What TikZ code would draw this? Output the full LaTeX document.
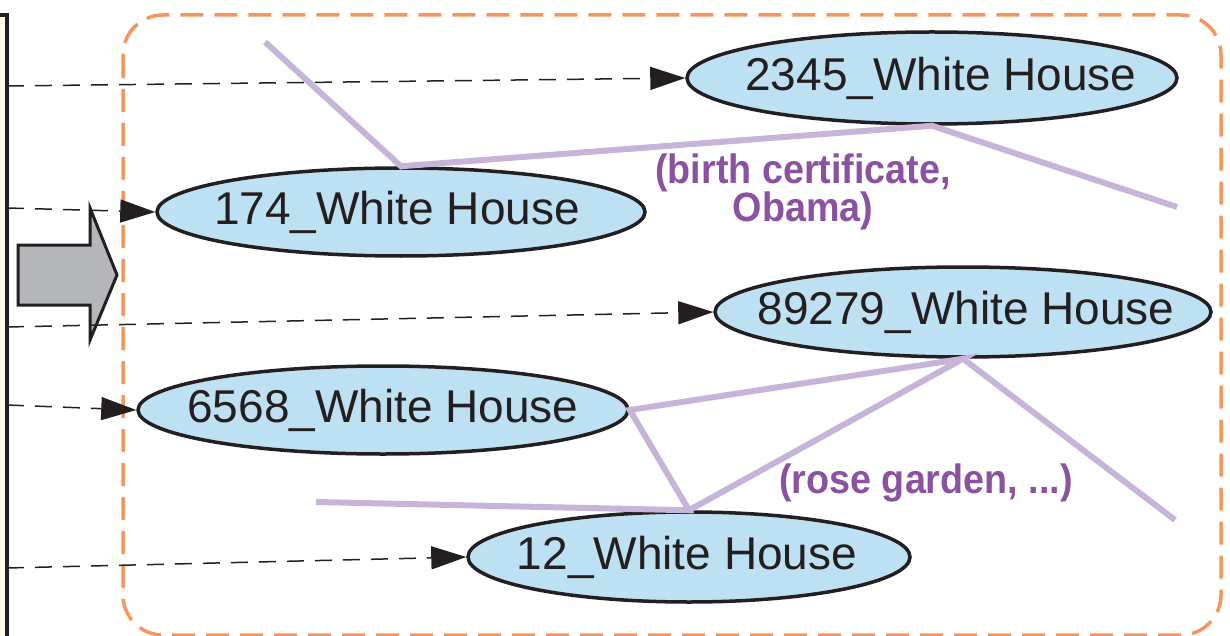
\documentclass[tikz,border=0pt]{standalone}
\usepackage{fontspec}
\setmainfont{Liberation Sans}
\newfontfamily\lblfont[FakeStretch=0.92]{Liberation Sans}
\usetikzlibrary{shapes.geometric,arrows.meta}

\definecolor{cream}{HTML}{FEFCE6}
\definecolor{entblue}{HTML}{BEE0F3}
\definecolor{lav}{HTML}{C7B5D9}
\definecolor{purp}{HTML}{8A52A0}
\definecolor{framec}{HTML}{F7965A}
\definecolor{arrowgray}{HTML}{B5B6BA}
\definecolor{inkdark}{HTML}{231F20}

% entity label set in a zero-width box so the ellipse size is fixed by its minimum size
\newcommand{\entlabel}[2][0pt]{\makebox[0pt]{\hspace*{#1}#2}}

\tikzset{
  ent/.style={ellipse, draw=inkdark, line width=3.5pt, fill=entblue, inner sep=0pt,
    text=inkdark, font=\fontsize{46}{50}\selectfont},
  refline/.style={draw=inkdark, line width=1.5pt, dash pattern=on 17pt off 11pt,
    -{Triangle[length=35pt,width=23pt]}},
  hyper/.style={draw=lav, line width=6pt, line join=miter},
  tuple/.style={text=purp, font=\lblfont\bfseries\fontsize{41}{40}\selectfont, inner sep=0pt},
  grp/.style={draw=framec, line width=3.5pt, dash pattern=on 23pt off 11pt, rounded corners=40pt},
}

\begin{document}
\begin{tikzpicture}[x=1pt,y=-1pt]
\useasboundingbox (0,0) rectangle (1230,636);

% source table at the left edge
\fill[cream] (-10,15) rectangle (7,646);
\draw[inkdark, line width=3.5pt] (-10,15) -- (7,15) -- (7,646);

% block arrow
\draw[fill=arrowgray, draw=inkdark, line width=3pt, line join=miter]
  (18,245) -- (90,245) -- (90,208) -- (117,275) -- (90,340) -- (90,305) -- (18,305) -- cycle;

% group frame
\draw[grp] (123,15) rectangle (1221,635);

% entity nodes
\node[ent, minimum width=490pt, minimum height=92pt] (e1) at (932,78) {\entlabel[18pt]{2345\_White House}};
\node[ent, minimum width=488pt, minimum height=88pt] (e2) at (401,212) {\entlabel[-8pt]{174\_White House}};
\node[ent, minimum width=496pt, minimum height=90pt] (e3) at (963,312) {\entlabel[6pt]{89279\_White House}};
\node[ent, minimum width=490pt, minimum height=88pt] (e4) at (383,410) {\entlabel{6568\_White House}};
\node[ent, minimum width=442pt, minimum height=90pt] (e5) at (689,557) {\entlabel[-4pt]{12\_White House}};

% hyperedges
\coordinate (h1) at (265,42);
\coordinate (h2) at (1177,207);
\coordinate (h3) at (316,502);
\coordinate (h4) at (1175,520);
\draw[hyper] (h1) -- (e2.north) -- (e1.south) -- (h2);
\draw[hyper] (h3) -- (e5.north) -- (e4.east) -- (e3.south) -- (e5.north);
\draw[hyper] (e3.south) -- (h4);

\node[tuple, align=center] (t1) at (803,192) {(birth certificate,\\[-2pt]Obama)};
\node[tuple] (t2) at (926,483) {(rose garden, ...)};

% references from the table rows
\coordinate (s1) at (7,86);
\coordinate (s2) at (7,208);
\coordinate (s3) at (7,327);
\coordinate (s4) at (7,405);
\coordinate (s5) at (7,568);
\draw[refline] (s1) -- (e1.west);
\draw[refline] (s2) -- (e2.west);
\draw[refline] (s3) -- (e3.west);
\draw[refline] (s4) -- (e4.west);
\draw[refline] (s5) -- (e5.west);
\end{tikzpicture}
\end{document}
